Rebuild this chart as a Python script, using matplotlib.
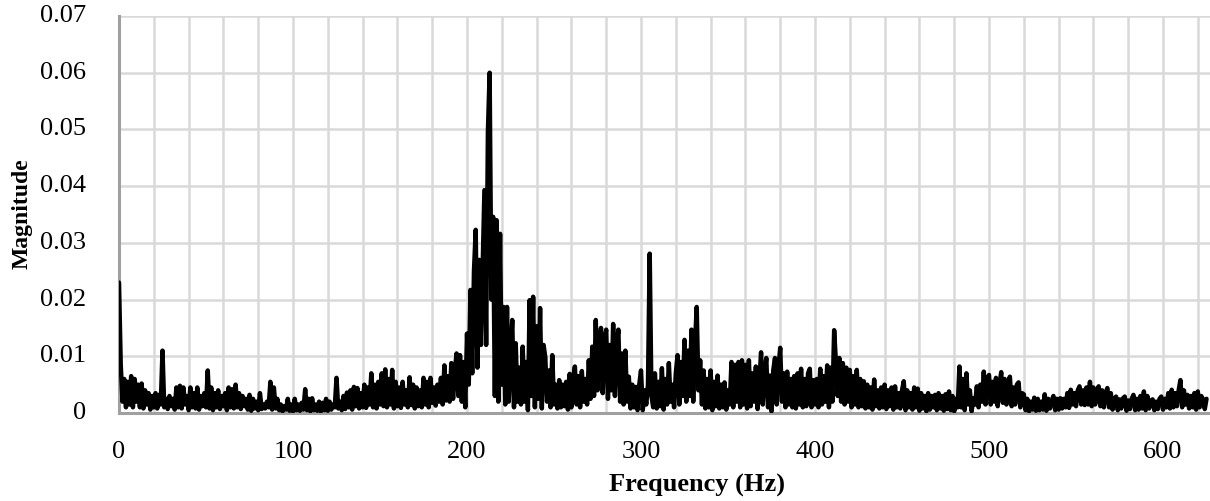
import numpy as np
import matplotlib
matplotlib.use("Agg")
import matplotlib.pyplot as plt
from matplotlib.ticker import MultipleLocator

# Magnitude spectrum, 1 Hz spacing, in units of 0.001
mag_milli = [
    23.0, 8.5, 2.0, 6.0, 1.0, 5.5, 1.5, 6.5, 1.0, 6.0,
    2.0, 5.0, 1.0, 5.2, 0.8, 4.0, 1.5, 3.5, 0.6, 3.0,
    1.0, 3.5, 0.8, 3.2, 1.5, 11.0, 1.0, 2.5, 0.7, 3.0,
    1.2, 2.5, 0.6, 4.5, 1.0, 4.8, 0.8, 4.5, 1.5, 3.0,
    0.5, 4.5, 1.0, 3.5, 0.8, 4.5, 0.6, 3.0, 1.2, 3.5,
    1.0, 7.5, 0.8, 4.5, 0.5, 3.5, 1.0, 4.0, 0.7, 3.0,
    1.2, 3.5, 0.5, 4.5, 1.0, 4.2, 0.8, 5.0, 1.0, 3.5,
    0.7, 3.0, 1.2, 2.5, 0.6, 3.2, 0.4, 2.5, 0.8, 2.0,
    0.5, 3.5, 0.7, 1.5, 0.8, 2.0, 1.0, 5.5, 0.6, 4.5,
    0.8, 2.5, 0.5, 1.5, 0.3, 1.2, 0.6, 2.5, 0.4, 1.5,
    0.3, 2.5, 0.5, 1.5, 0.4, 1.8, 0.6, 4.2, 0.5, 2.5,
    0.3, 2.6, 0.5, 1.5, 0.4, 2.0, 0.3, 1.8, 0.5, 2.5,
    0.4, 2.0, 0.6, 1.5, 1.0, 6.2, 0.8, 2.0, 0.5, 3.0,
    0.7, 3.6, 1.0, 4.0, 0.6, 4.6, 1.2, 4.4, 0.8, 3.5,
    1.0, 5.0, 0.9, 4.5, 1.5, 7.0, 1.0, 5.0, 0.8, 5.5,
    1.5, 7.0, 1.2, 7.7, 1.0, 6.0, 1.5, 7.6, 0.8, 5.5,
    1.2, 4.5, 0.9, 5.5, 1.5, 4.0, 1.0, 6.3, 1.4, 5.0,
    0.8, 4.5, 1.2, 4.0, 1.0, 6.2, 1.5, 5.5, 1.0, 6.2,
    1.8, 4.5, 1.3, 5.0, 2.0, 6.2, 1.5, 8.4, 2.2, 6.5,
    2.0, 8.8, 2.5, 7.5, 10.5, 3.0, 10.2, 2.0, 9.0, 1.0,
    14.0, 5.0, 21.7, 7.0, 25.0, 32.3, 8.0, 27.0, 12.0, 26.0,
    39.3, 12.0, 49.4, 60.0, 20.0, 34.6, 3.0, 34.0, 2.0, 31.6,
    5.0, 18.7, 1.5, 18.7, 2.0, 10.0, 16.4, 1.0, 12.3, 2.0,
    8.0, 1.5, 11.7, 2.0, 9.0, 0.5, 19.9, 3.0, 20.5, 1.0,
    15.3, 2.5, 18.5, 0.8, 12.0, 9.8, 2.0, 7.5, 1.0, 10.2,
    1.5, 5.0, 0.8, 5.8, 1.0, 5.0, 1.2, 5.5, 0.6, 6.9,
    1.0, 6.0, 8.2, 1.5, 6.5, 1.0, 7.4, 2.0, 6.0, 1.5,
    9.3, 2.5, 11.7, 3.0, 16.4, 4.0, 12.0, 15.0, 3.5, 13.0,
    14.7, 2.5, 12.0, 4.0, 15.7, 3.0, 12.0, 14.7, 2.0, 10.5,
    1.5, 11.0, 2.0, 6.4, 0.8, 5.0, 1.0, 4.6, 0.5, 5.0,
    7.5, 0.5, 4.0, 1.5, 5.0, 28.1, 3.0, 1.0, 7.0, 0.8,
    5.5, 1.2, 7.9, 0.6, 6.0, 1.5, 8.8, 2.0, 5.0, 1.0,
    7.0, 10.2, 1.5, 9.0, 3.0, 12.9, 2.0, 11.0, 3.0, 14.7,
    2.0, 12.0, 18.7, 4.0, 9.3, 1.5, 7.5, 0.8, 6.0, 1.0,
    7.5, 0.5, 5.5, 1.2, 6.6, 0.8, 5.0, 1.0, 5.4, 0.6,
    4.0, 1.5, 9.0, 1.0, 8.5, 2.0, 9.0, 1.0, 9.3, 1.5,
    8.5, 0.8, 9.3, 1.2, 7.0, 2.0, 8.2, 0.7, 5.5, 10.7,
    1.5, 7.0, 9.7, 1.0, 6.6, 0.3, 7.5, 9.7, 1.5, 8.0,
    11.5, 2.0, 7.0, 1.0, 7.3, 1.5, 6.0, 1.0, 6.5, 0.8,
    7.0, 1.5, 7.8, 1.0, 6.0, 1.2, 7.0, 7.8, 1.0, 5.8,
    1.5, 6.0, 1.0, 7.8, 1.5, 6.5, 2.0, 8.4, 1.0, 8.0,
    2.0, 14.6, 9.0, 3.0, 9.7, 2.0, 8.8, 1.5, 8.0, 2.0,
    7.6, 1.0, 6.5, 1.5, 7.6, 1.0, 6.0, 1.2, 5.6, 0.8,
    5.0, 1.0, 4.5, 0.6, 5.9, 1.2, 4.0, 0.8, 4.5, 1.0,
    5.0, 0.7, 4.0, 1.2, 4.5, 0.6, 4.7, 1.0, 3.5, 0.8,
    4.0, 5.6, 0.5, 4.0, 1.0, 3.5, 0.6, 4.5, 1.0, 4.3,
    0.4, 3.5, 0.8, 3.0, 0.3, 3.5, 0.6, 3.0, 1.0, 3.2,
    0.5, 3.5, 0.8, 3.0, 0.4, 3.3, 0.7, 3.8, 0.5, 3.0,
    0.3, 2.5, 1.0, 8.2, 1.0, 6.0, 0.5, 7.0, 1.5, 4.0,
    0.3, 2.6, 1.5, 4.7, 1.0, 5.0, 2.0, 7.3, 1.5, 6.0,
    6.7, 1.5, 5.5, 2.0, 6.2, 1.2, 5.0, 7.2, 1.8, 6.0,
    1.5, 5.5, 6.4, 1.2, 4.5, 1.5, 5.0, 5.4, 1.0, 3.5,
    3.3, 0.5, 2.5, 0.3, 2.0, 0.6, 2.7, 0.4, 2.5, 0.5,
    2.0, 0.6, 3.3, 0.4, 2.5, 0.8, 2.2, 3.0, 0.5, 2.5,
    0.6, 2.6, 0.8, 2.5, 1.0, 3.5, 0.9, 4.1, 1.5, 3.5,
    1.2, 4.0, 4.7, 1.5, 4.0, 1.4, 4.5, 1.5, 5.5, 1.2,
    4.5, 1.5, 3.8, 4.7, 1.2, 4.0, 1.0, 3.5, 4.4, 1.0,
    3.5, 0.6, 2.5, 2.9, 0.5, 2.4, 0.8, 2.6, 2.9, 0.4,
    2.2, 0.7, 2.5, 3.2, 0.5, 2.5, 0.6, 3.0, 0.8, 3.8,
    0.5, 3.0, 0.8, 2.2, 2.4, 0.5, 2.0, 0.7, 2.5, 2.9,
    0.6, 2.5, 1.0, 3.5, 0.8, 4.1, 1.0, 3.5, 1.2, 4.0,
    5.8, 1.0, 4.0, 1.5, 3.2, 0.8, 3.0, 1.0, 3.5, 0.6,
    3.8, 1.0, 3.0, 2.4, 0.7, 2.5,
]
freq_step_hz = 1.0
x_ticks = [0, 100, 200, 300, 400, 500, 600]
y_ticks = [0, 0.01, 0.02, 0.03, 0.04, 0.05, 0.06, 0.07]
y_tick_labels = ["0", "0.01", "0.02", "0.03", "0.04", "0.05", "0.06", "0.07"]

magnitude = np.array(mag_milli) / 1000.0
freqs = np.arange(len(magnitude)) * freq_step_hz

plt.rcParams['font.family'] = ['Liberation Serif', 'DejaVu Serif']

fig = plt.figure(figsize=(12.10, 5.01), dpi=100)
ax = fig.add_axes([119/1210, 1-413/501, 1-119/1210, (413-16)/501])

ax.plot(freqs, magnitude, color='black', lw=3.2, solid_joinstyle='round',
        solid_capstyle='round', zorder=3)

ax.set_xlim(0, 627)
ax.set_ylim(0, 0.07)
ax.set_xticks(x_ticks)
ax.xaxis.set_minor_locator(MultipleLocator(20))
ax.set_yticks(y_ticks)
ax.set_yticklabels(y_tick_labels)

ax.grid(True, which='both', axis='x', color='#d9d9d9', lw=1.8, zorder=0)
ax.grid(True, which='major', axis='y', color='#d9d9d9', lw=1.8, zorder=0)
ax.tick_params(which='both', length=0)
ax.tick_params(axis='x', pad=20, labelsize=19)
ax.tick_params(axis='y', pad=24, labelsize=19)
for lbl in ax.get_yticklabels():
    lbl.set_verticalalignment('center')

for s in ['top', 'right']:
    ax.spines[s].set_visible(False)
for s in ['left', 'bottom']:
    ax.spines[s].set_color('#a0a0a0')
    ax.spines[s].set_linewidth(2.2)
    ax.spines[s].set_zorder(2)

fig.text(697/1210, 1-485/501, 'Frequency (Hz)', ha='center', va='center',
         fontsize=19, fontweight='bold')
fig.text(22/1210, 1-214/501, 'Magnitude', ha='center', va='center',
         rotation=90, fontsize=17, fontweight='bold')

fig.savefig('out.png', dpi=100, facecolor='white')
